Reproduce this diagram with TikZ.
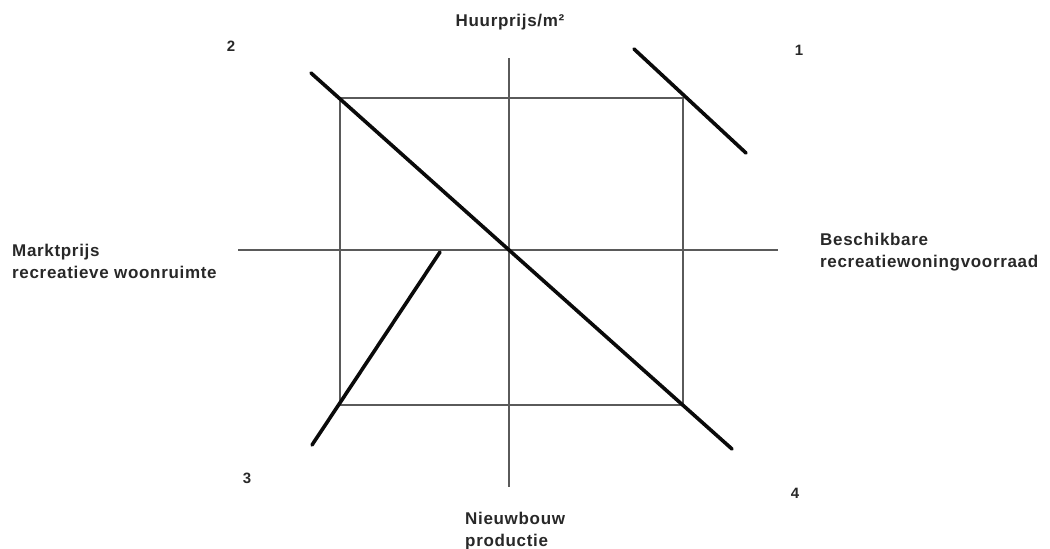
\documentclass[tikz,border=0pt]{standalone}
\usepackage{fontspec}
\setmainfont{Liberation Sans}
\newfontfamily\labelfont[LetterSpace=4.0]{Liberation Sans}
\usepackage{xcolor}
\usetikzlibrary{positioning}
\definecolor{axisgray}{RGB}{90,90,90}
\definecolor{curveblack}{RGB}{10,10,10}
\definecolor{labelgray}{RGB}{40,40,40}

\begin{document}
\begin{tikzpicture}[x=1pt,y=-1pt,
    axisline/.style={axisgray, line width=1.3pt},
    curveline/.style={curveblack, line width=3.6pt, line cap=round},
    lbl/.style={text=labelgray, font=\labelfont\fontsize{17}{22}\selectfont\bfseries, inner sep=0pt, align=left},
    numlbl/.style={text=labelgray, font=\fontsize{15}{18}\selectfont\bfseries, inner sep=0pt}]
    \useasboundingbox (0,0) rectangle (1050,549);
    % axes and frame
    \coordinate (top) at (509,58);
    \coordinate (bottom) at (509,487);
    \coordinate (left) at (238,250);
    \coordinate (right) at (778,250);
    \coordinate (origin) at (509,250);
    \coordinate (nw) at (340,98);
    \coordinate (se) at (683,405);
    \draw[axisline] (top) -- (bottom);
    \draw[axisline] (left) -- (right);
    \draw[axisline] (nw) rectangle (se);
    % curves
    \coordinate (c1a) at (634,49);
    \coordinate (c1b) at (746,153);
    \coordinate (c2a) at (311,73);
    \coordinate (c2b) at (732,449);
    \coordinate (c3a) at (440,252);
    \coordinate (c3b) at (312,445);
    \draw[curveline] (c1a) -- (c1b);
    \draw[curveline] (c2a) -- (origin) -- (c2b);
    \draw[curveline] (c3a) -- (c3b);
    % labels
    \node[lbl] (huur) at (510,22) {Huurprijs/m²};
    \node[lbl, anchor=west] (markt) at (12,261) {Marktprijs\\recreatieve woonruimte};
    \node[lbl, anchor=west] (voorraad) at (820,252) {Beschikbare\\recreatiewoningvoorraad};
    \node[lbl, anchor=west] (bouw) at (465,531) {Nieuwbouw\\productie};
    \node[numlbl] (q1) at (799,50) {1};
    \node[numlbl] (q2) at (231,46) {2};
    \node[numlbl] (q3) at (247,478) {3};
    \node[numlbl] (q4) at (795,493) {4};
\end{tikzpicture}
\end{document}
